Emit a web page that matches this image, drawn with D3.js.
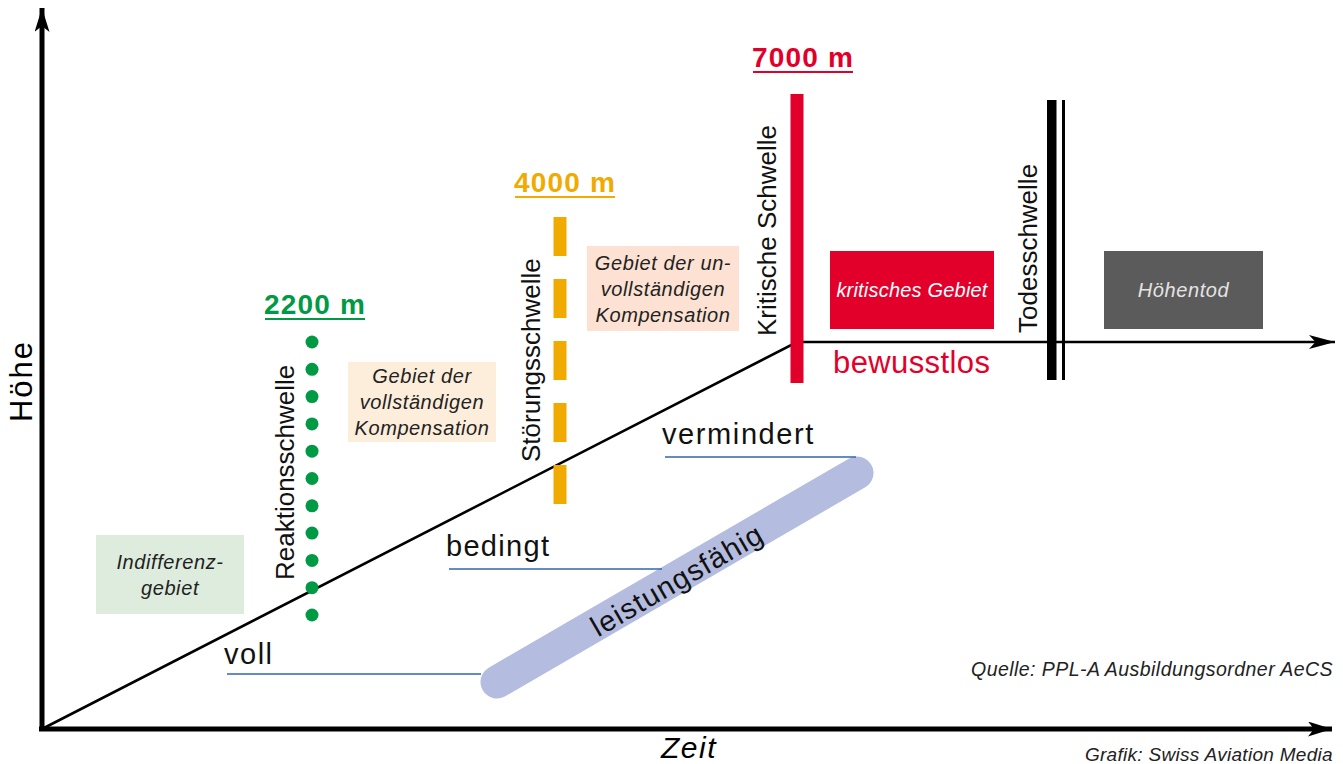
<!DOCTYPE html>
<html><head><meta charset="utf-8">
<script src="https://cdn.jsdelivr.net/npm/d3@7"></script>
<style>
html,body{margin:0;padding:0;background:#fff;}
text{font-family:"Liberation Sans",Arial,sans-serif;}
</style></head>
<body><svg id="c" width="1343" height="764"></svg>
<script>
// ---- data ----
const thresholdNames = ["Reaktionsschwelle","Störungsschwelle","Kritische Schwelle","Todesschwelle"];
const thresholdAltitudes = ["2200 m","4000 m","7000 m",""];
const thresholdColors = ["#009a44","#f0aa00","#e2002a","#000000"];
const thresholdTime = [270, 518, 755, 1010];           // position along "Zeit"
const zoneNames = [["Indifferenz-","gebiet"],["Gebiet der","vollständigen","Kompensation"],["Gebiet der un-","vollständigen","Kompensation"],["kritisches Gebiet"],["Höhentod"]];
const zoneColors = ["#deecde","#fdeedb","#fde2d3","#e2002a","#5b5b5b"];
const zoneTextColors = ["#222","#222","#222","#ffffff","#e4e4e4"];
const performanceLevels = ["voll","bedingt","vermindert"];
const performanceLabel = "leistungsfähig";
const consciousLabel = "bewusstlos";

// ---- scales (time -> x, height -> y) ----
const x = d3.scaleLinear().domain([0,1300]).range([42,1342]);
const y = d3.scaleLinear().domain([0,730]).range([729,-1]);
const svg = d3.select("#c");

const defs = svg.append("defs");
function marker(id,len,wid){
  defs.append("marker").attr("id",id).attr("viewBox",`0 0 ${len} ${wid}`)
   .attr("refX",len).attr("refY",wid/2).attr("markerWidth",len).attr("markerHeight",wid)
   .attr("markerUnits","userSpaceOnUse").attr("orient","auto")
   .append("path").attr("d",`M0,0L${len},${wid/2}L0,${wid}L${len*0.25},${wid/2}Z`).attr("fill","#000");
}
marker("aBig",24,15); marker("aSmall",26,14);

// axes
svg.append("line").attr("x1",x(0)).attr("y1",y(-2)).attr("x2",x(0)).attr("y2",y(721))
  .attr("stroke","#000").attr("stroke-width",5).attr("marker-end","url(#aBig)");
svg.append("line").attr("x1",x(-3)).attr("y1",y(0)).attr("x2",x(1290)).attr("y2",y(0))
  .attr("stroke","#000").attr("stroke-width",5).attr("marker-end","url(#aBig)");

// curve: rises until kritische Schwelle then flat
const pathData = [[0,0],[755,387],[1293,387]];
svg.append("path").attr("d",d3.line().x(d=>x(d[0])).y(d=>y(d[1]))(pathData))
  .attr("fill","none").attr("stroke","#000").attr("stroke-width",2.6).attr("marker-end","url(#aSmall)");

// axis titles
svg.append("text").attr("transform",`translate(${x(-10)},${y(348)}) rotate(-90)`)
  .attr("text-anchor","middle").attr("font-size",31).attr("letter-spacing",2).text("Höhe");
svg.append("text").attr("x",x(647)).attr("y",758).attr("text-anchor","middle")
  .attr("font-size",30).attr("font-style","italic").attr("letter-spacing",1.5).text("Zeit");

// performance band
svg.append("line").attr("x1",x(455)).attr("y1",y(47)).attr("x2",x(815)).attr("y2",y(256))
  .attr("stroke","#b4bcdf").attr("stroke-width",33).attr("stroke-linecap","round");
svg.append("text").attr("transform",`translate(${x(635)},${y(149)}) rotate(-30.1)`)
  .attr("text-anchor","middle").attr("font-size",29).attr("letter-spacing",1.2).attr("fill","#111").attr("dy","0.35em").text(performanceLabel);

// performance level labels with leader lines
const lvl = [{t:182,h:55,len:254,ty:664,ls:1.5},{t:404,h:160,len:213,ty:556,ls:1.3},{t:620,h:272,len:191,ty:444,ls:1.6}];
lvl.forEach((d,i)=>{
  svg.append("line").attr("x1",x(d.t+3)).attr("x2",x(d.t+3+d.len)).attr("y1",y(d.h)).attr("y2",y(d.h))
    .attr("stroke","#2f66b3").attr("stroke-width",1.4);
  svg.append("text").attr("x",x(d.t)).attr("y",d.ty).attr("font-size",29).attr("letter-spacing",d.ls).attr("fill","#111").text(performanceLevels[i]);
});

// Reaktionsschwelle dots
const dotsY = d3.range(11).map(i=>342+i*27.3);
svg.selectAll(".dot").data(dotsY).join("circle").attr("cx",x(thresholdTime[0])).attr("cy",d=>d)
  .attr("r",6.5).attr("fill",thresholdColors[0]);
// Störungsschwelle dashes
svg.append("line").attr("x1",x(thresholdTime[1])).attr("x2",x(thresholdTime[1])).attr("y1",217).attr("y2",504)
  .attr("stroke",thresholdColors[1]).attr("stroke-width",13).attr("stroke-dasharray","39,23");
// Kritische Schwelle bar
svg.append("rect").attr("x",x(thresholdTime[2])-6.5).attr("width",13).attr("y",94).attr("height",289).attr("fill",thresholdColors[2]);
// Todesschwelle double bar
svg.append("rect").attr("x",x(thresholdTime[3])-5).attr("width",9.5).attr("y",100).attr("height",280).attr("fill","#000");
svg.append("rect").attr("x",x(thresholdTime[3])+10).attr("width",3).attr("y",100).attr("height",280).attr("fill","#000");

// threshold names (rotated)
const nameX=[285,531,767,1028], nameBottom=[580,462,336,333];
thresholdNames.forEach((n,i)=>{
  svg.append("text").attr("transform",`translate(${nameX[i]},${nameBottom[i]}) rotate(-90)`)
    .attr("dy","0.36em").attr("font-size",26).attr("fill","#111").text(n);
});
// altitudes
const altX=[315,565,803], altY=[314,192,67];
thresholdAltitudes.slice(0,3).forEach((a,i)=>{
  svg.append("text").attr("x",altX[i]).attr("y",altY[i]).attr("text-anchor","middle")
    .attr("font-size",28).attr("letter-spacing",1.2).attr("font-weight","bold").attr("fill",thresholdColors[i]).text(a);
  svg.append("rect").attr("x",altX[i]-50).attr("y",altY[i]+4).attr("width",100).attr("height",2).attr("fill",thresholdColors[i]);
});

// zones
const zones=[{x:96,y:535,w:148,h:79},{x:348,y:362,w:148,h:80},{x:587,y:246,w:152,h:85},{x:830,y:251,w:164,h:78},{x:1104,y:251,w:159,h:78}];
zones.forEach((z,i)=>{
  svg.append("rect").attr("x",z.x).attr("y",z.y).attr("width",z.w).attr("height",z.h).attr("fill",zoneColors[i]);
  const lines=zoneNames[i], lh=26;
  const cy=z.y+z.h/2;
  lines.forEach((l,j)=>{
    svg.append("text").attr("x",z.x+z.w/2).attr("y",cy+(j-(lines.length-1)/2)*lh).attr("dy","0.36em")
      .attr("text-anchor","middle").attr("font-size",20).attr("letter-spacing",i===3?0.2:0.6).attr("font-style","italic").attr("fill",zoneTextColors[i]).text(l);
  });
});

// bewusstlos
svg.append("text").attr("x",833).attr("y",373).attr("font-size",31).attr("letter-spacing",0.4).attr("fill","#e2002a").text(consciousLabel);

// sources
svg.append("text").attr("x",1333).attr("y",676).attr("text-anchor","end").attr("font-size",19.5)
  .attr("letter-spacing",0.45).attr("font-style","italic").attr("fill","#222").text("Quelle: PPL-A Ausbildungsordner AeCS");
svg.append("text").attr("x",1333).attr("y",761).attr("text-anchor","end").attr("font-size",19)
  .attr("letter-spacing",0.3).attr("font-style","italic").attr("fill","#222").text("Grafik: Swiss Aviation Media");
</script></body></html>
